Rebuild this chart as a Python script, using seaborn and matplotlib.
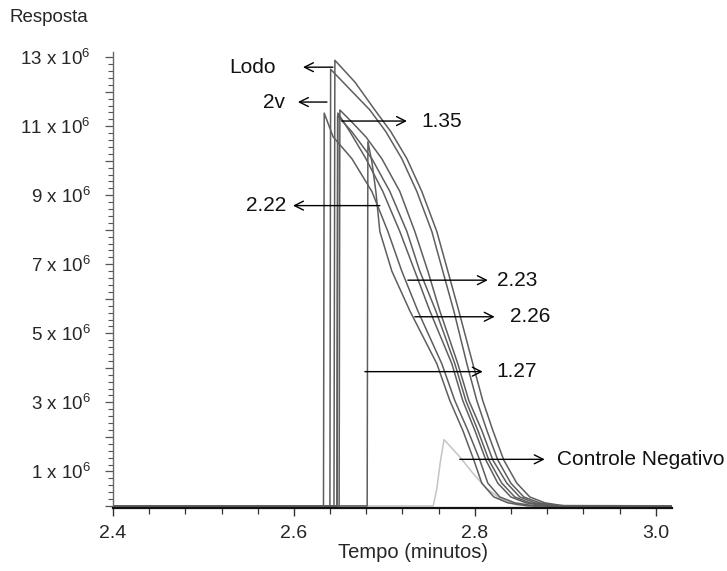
import matplotlib
matplotlib.use("Agg")
import matplotlib.pyplot as plt
import seaborn as sns
import pandas as pd
from matplotlib.ticker import MultipleLocator, FixedLocator

# ---------------- data (time in minutes, response in 10^6) ----------------
lodo_t = [2.400, 2.6443, 2.6453, 2.6674, 2.6895, 2.7072, 2.7249, 2.7414, 2.7580, 2.7702,
          2.7823, 2.7978, 2.8088, 2.8199, 2.8320, 2.8464, 2.8608, 2.8773, 2.8994, 3.018]
lodo_y = [0, 0, 12.91, 12.28, 11.47, 10.84, 10.06, 9.11, 7.95, 6.80,
          5.65, 4.12, 3.05, 2.19, 1.33, 0.66, 0.26, 0.09, 0, 0]

v2_t = [2.400, 2.6398, 2.6406, 2.6597, 2.6840, 2.7017, 2.7193, 2.7359, 2.7525, 2.7646,
        2.7768, 2.7912, 2.8022, 2.8133, 2.8254, 2.8398, 2.8541, 2.8718, 2.8939, 3.018]
v2_y = [0, 0, 12.65, 12.13, 11.47, 10.84, 10.06, 9.11, 7.95, 6.80,
        5.65, 4.12, 3.05, 2.19, 1.33, 0.66, 0.26, 0.09, 0, 0]

s135_t = [2.400, 2.6500, 2.6508, 2.6641, 2.6796, 2.6972, 2.7171, 2.7337, 2.7481, 2.7613,
          2.7812, 2.7934, 2.8077, 2.8199, 2.8354, 2.8497, 2.8663, 2.8884, 3.018]
s135_y = [0, 0, 11.47, 11.12, 10.69, 10.06, 9.11, 7.95, 6.80, 5.65,
          4.12, 3.05, 2.19, 1.33, 0.66, 0.26, 0.09, 0, 0]

s226_t = [2.400, 2.6475, 2.6483, 2.6641, 2.6862, 2.7061, 2.7249, 2.7392, 2.7569, 2.7779,
          2.7901, 2.8033, 2.8155, 2.8298, 2.8442, 2.8608, 2.8829, 3.018]
s226_y = [0, 0, 11.30, 10.84, 10.06, 9.11, 7.95, 6.80, 5.65, 4.12,
          3.05, 2.19, 1.33, 0.66, 0.26, 0.09, 0, 0]

s223_t = [2.400, 2.6478, 2.6486, 2.6619, 2.6796, 2.6983, 2.7171, 2.7337, 2.7503, 2.7746,
          2.7867, 2.8000, 2.8122, 2.8254, 2.8398, 2.8564, 2.8773, 3.018]
s223_y = [0, 0, 11.38, 10.84, 10.06, 9.11, 7.95, 6.80, 5.65, 4.12,
          3.05, 2.19, 1.33, 0.66, 0.26, 0.09, 0, 0]

s222_t = [2.400, 2.6327, 2.6335, 2.6434, 2.6641, 2.6862, 2.7039, 2.7193, 2.7370, 2.7635,
          2.7779, 2.7923, 2.8055, 2.8144, 2.8276, 2.8442, 2.8663, 3.018]
s222_y = [0, 0, 11.38, 10.69, 10.06, 9.11, 7.95, 6.80, 5.65, 4.12,
          3.05, 2.19, 1.33, 0.66, 0.26, 0.09, 0, 0]

s127_t = [2.400, 2.6810, 2.6818, 2.6862, 2.6906, 2.6950, 2.7083, 2.7282, 2.7580, 2.7724,
          2.7867, 2.7989, 2.8077, 2.8210, 2.8365, 2.8586, 3.018]
s127_y = [0, 0, 10.55, 9.97, 9.11, 7.95, 6.80, 5.65, 4.12, 3.05,
          2.19, 1.33, 0.66, 0.26, 0.09, 0, 0]

ctrl_t = [2.400, 2.7540, 2.7580, 2.7620, 2.7660, 2.7720, 2.7834, 2.7981, 2.8129, 2.8276, 2.8460, 3.018]
ctrl_y = [0, 0, 0.50, 1.30, 1.92, 1.75, 1.42, 0.94, 0.51, 0.22, 0.03, 0]

series_names = ["Controle Negativo", "Lodo", "2v", "1.35", "2.26", "2.23", "2.22", "1.27"]
series_t = [ctrl_t, lodo_t, v2_t, s135_t, s226_t, s223_t, s222_t, s127_t]
series_y = [ctrl_y, lodo_y, v2_y, s135_y, s226_y, s223_y, s222_y, s127_y]

x_ticks = [2.4, 2.6, 2.8, 3.0]
x_tick_labels = ["2.4", "2.6", "2.8", "3.0"]
y_ticks = list(range(0, 14))
y_tick_labels = [("%d x 10$^6$" % v) if v % 2 == 1 else "" for v in y_ticks]

label_texts = ["Lodo", "2v", "1.35", "2.22", "2.23", "2.26", "1.27", "Controle Negativo"]

# ---------------- style ----------------
sns.set_style("white")
plt.rcParams["font.family"] = ["Liberation Sans", "DejaVu Sans"]
plt.rcParams["mathtext.fontset"] = "custom"
plt.rcParams["mathtext.rm"] = "Liberation Sans"
plt.rcParams["mathtext.it"] = "Liberation Sans:italic"
plt.rcParams["mathtext.bf"] = "Liberation Sans:bold"

rows = []
for name, ts, ys in zip(series_names, series_t, series_y):
    for t, y in zip(ts, ys):
        rows.append({"Amostra": name, "Tempo": t, "Resposta": y})
df = pd.DataFrame(rows)

palette = {n: "#5e5e5e" for n in series_names}
palette["Controle Negativo"] = "#c4c4c4"

fig = plt.figure(figsize=(7.27, 5.71), dpi=100)
ax = fig.add_axes([113 / 727, (571 - 508) / 571, 559 / 727, 456 / 571])

sns.lineplot(data=df, x="Tempo", y="Resposta", hue="Amostra", hue_order=series_names,
             palette=palette, estimator=None, sort=False, units="Amostra",
             linewidth=1.1, legend=False, ax=ax)

ax.set_xlim(2.4, 3.018)
ax.set_ylim(-0.06, 13.15)

ax.xaxis.set_major_locator(FixedLocator(x_ticks))
ax.set_xticklabels(x_tick_labels)
ax.xaxis.set_minor_locator(MultipleLocator(0.04))
ax.yaxis.set_major_locator(FixedLocator(y_ticks))
ax.set_yticklabels(y_tick_labels)
ax.yaxis.set_minor_locator(MultipleLocator(0.2))

ax.tick_params(axis="x", which="major", direction="out", length=6, width=1, color="#333333",
               labelsize=14, pad=6, bottom=True)
ax.tick_params(axis="x", which="minor", direction="out", length=4, width=0.9, color="#333333", bottom=True)
ax.tick_params(axis="y", which="major", direction="out", length=6, width=0.9, color="#555555",
               labelsize=13.5, pad=10, left=True)
ax.tick_params(axis="y", which="minor", direction="out", length=3.5, width=0.8, color="#555555", left=True)

for s in ["top", "right"]:
    ax.spines[s].set_visible(False)
ax.spines["left"].set_color("#666666")
ax.spines["left"].set_linewidth(1.0)
ax.spines["bottom"].set_color("#111111")
ax.spines["bottom"].set_linewidth(1.6)

ax.set_xlabel("Tempo (minutos)", fontsize=14.5)
ax.xaxis.set_label_coords((413 - 113) / 559, (508 - 553) / 456)
ax.xaxis.label.set_va("center")
ax.set_ylabel("Resposta", fontsize=13.5, rotation=0, ha="left", va="center")
ax.yaxis.set_label_coords((10 - 113) / 559, (508 - 18) / 456)

# ---------------- annotations ----------------
# (tail x, head x, y, text x, text alignment)
arrow_specs = [
    (2.6431, 2.6100, 12.71, 2.5800, "right"),
    (2.6365, 2.6044, 11.70, 2.5900, "right"),
    (2.6530, 2.7250, 11.15, 2.7414, "left"),
    (2.6950, 2.5990, 8.70, 2.5920, "right"),
    (2.7260, 2.8144, 6.54, 2.8240, "left"),
    (2.7337, 2.8220, 5.48, 2.8387, "left"),
    (2.6785, 2.8088, 3.89, 2.8240, "left"),
    (2.7834, 2.8773, 1.35, 2.8906, "left"),
]
for txt, (xt, xh, yy, xtext, ha) in zip(label_texts, arrow_specs):
    ax.annotate("", xy=(xh, yy), xytext=(xt, yy),
                arrowprops=dict(arrowstyle="->", color="black", lw=1.0,
                                mutation_scale=16, shrinkA=0, shrinkB=0),
                annotation_clip=False)
    ax.text(xtext, yy, txt, ha=ha, va="center", fontsize=15, color="#111111", clip_on=False)

fig.savefig("out.png", dpi=100)
